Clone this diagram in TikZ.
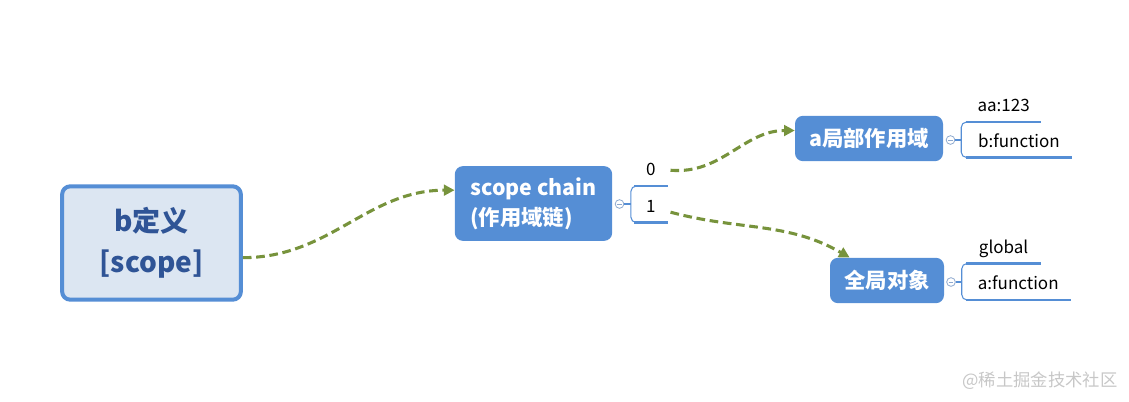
\documentclass[tikz,border=0pt]{standalone}
\usepackage{fontspec}
\setmainfont{Noto Sans CJK SC}
\usetikzlibrary{arrows.meta}

\definecolor{topicblue}{HTML}{558ED5}
\definecolor{rootfill}{HTML}{DCE6F2}
\definecolor{roottext}{HTML}{2F5496}
\definecolor{linkgreen}{HTML}{77933C}
\definecolor{foldgray}{HTML}{8EA9CF}

\begin{document}
\begin{tikzpicture}[x=0.75pt,y=-0.75pt,
		root/.style={rounded corners=6pt,fill=rootfill,draw=topicblue,line width=3pt,text=roottext,
			font=\bfseries\fontsize{21}{31}\selectfont,align=center,inner sep=0pt,
			minimum width=134pt,minimum height=85pt},
		topic/.style={rounded corners=6pt,fill=topicblue,text=white,font=\bfseries\fontsize{16}{22.5}\selectfont,
			inner sep=0pt,minimum height=34pt},
		leaf/.style={anchor=south west,font=\fontsize{12.75}{14}\selectfont,inner xsep=0pt,inner ysep=4.5pt,text depth=3pt},
		uline/.style={draw=topicblue,line width=2.2pt},
		brace/.style={draw=topicblue,line width=0.8pt,rounded corners=4pt},
		fold/.style={circle,draw=foldgray,fill=white,line width=0.6pt,minimum size=6.5pt,inner sep=0pt,
			path picture={\draw[foldgray,line width=0.6pt] ([xshift=-1.8pt]path picture bounding box.center) -- ([xshift=1.8pt]path picture bounding box.center);}},
		link/.style={draw=linkgreen,line width=2.3pt,dash pattern=on 6.5pt off 3.5pt,-{Triangle[length=8pt,width=8pt]}}]
	\useasboundingbox (0,0) rectangle (1129,401);

	% topics
	\node[root] (bdef) at (151.5,243) {b定义\\{}[scope]};
	\node[topic,minimum width=118pt,minimum height=56pt,align=left] (chain) at (533.5,203.5) {scope chain\\(作用域链)};
	\node[topic,minimum width=111pt] (local) at (869,138.5) {a局部作用域};
	\node[topic,minimum width=85.5pt] (global) at (887,280.5) {全局对象};

	% scope chain items
	\node[fold] (fchain) at (619.5,204) {};
	\node[leaf,minimum width=25pt] (idx0) at (634,186) {0};
	\node[leaf,minimum width=25pt] (idx1) at (634,222.5) {1};
	\draw[uline] (idx0.south west) -- (idx0.south east);
	\draw[uline] (idx1.south west) -- (idx1.south east);
	\draw[brace] (idx0.south west) -| ([xshift=5pt]fchain.east) |- (idx1.south west);
	\draw[brace] (fchain.east) -- ([xshift=5pt]fchain.east);

	% a local scope items
	\node[fold] (flocal) at (950.5,140) {};
	\node[leaf,minimum width=56pt] (aa) at (966,122) {aa:123};
	\node[leaf,minimum width=79pt] (bfun) at (966,157.5) {b:function};
	\draw[uline] (aa.south west) -- (aa.south east);
	\draw[uline] (bfun.south west) -- (bfun.south east);
	\draw[brace] (aa.south west) -| ([xshift=4.5pt]flocal.east) |- (bfun.south west);
	\draw[brace] (flocal.east) -- ([xshift=4.5pt]flocal.east);

	% global object items
	\node[fold] (fglobal) at (951,282) {};
	\node[leaf,minimum width=56pt] (glob) at (966,263.5) {global};
	\node[leaf,minimum width=78pt] (afun) at (966,300) {a:function};
	\draw[uline] (glob.south west) -- (glob.south east);
	\draw[uline] (afun.south west) -- (afun.south east);
	\draw[brace] (glob.south west) -| ([xshift=4.5pt]fglobal.east) |- (afun.south west);
	\draw[brace] (fglobal.east) -- ([xshift=4.5pt]fglobal.east);

	% links
	\draw[link] ([yshift=-11pt]bdef.east) to[out=0,in=180] ([yshift=10pt]chain.west);
	\draw[link] ([xshift=2pt,yshift=1pt]idx0.east) to[out=-5,in=180] ([yshift=6pt]local.west);
	\draw[link] ([xshift=2pt,yshift=-3pt]idx1.east) to[out=-15,in=150] ([xshift=-28pt]global.north);

	\node[text=black!22,font=\fontsize{13}{15}\selectfont] (mark) at (1040,381) {@稀土掘金技术社区};
\end{tikzpicture}
\end{document}
